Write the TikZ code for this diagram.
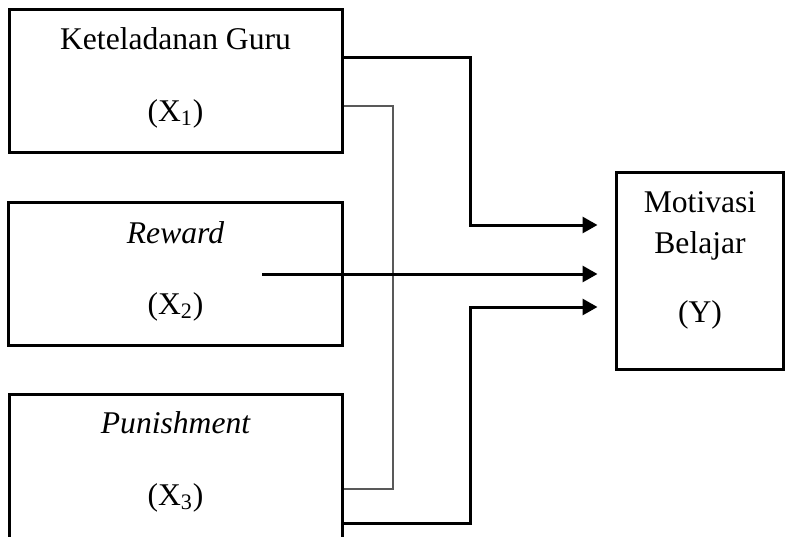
\documentclass[tikz,border=0pt]{standalone}
\usepackage{fontspec}
\setmainfont{Liberation Serif}
\usetikzlibrary{arrows.meta}
\begin{document}
\begin{tikzpicture}[x=0.5pt,y=-0.5pt,
  box/.style={draw,line width=1.5pt,rectangle,inner sep=0pt},
  lbl/.style={font=\fontsize{15.8pt}{19pt}\selectfont,inner sep=0pt,anchor=base},
  link/.style={line width=1.5pt},
  thinlink/.style={line width=0.6pt,draw=black!65},
  arr/.style={-{Triangle[length=7.5pt,width=8pt]},shorten >=8.5pt}]
\useasboundingbox (0,0) rectangle (785,536);
\clip (0,0) rectangle (785,536);
% boxes
\node[box,minimum width=166.5pt,minimum height=71.5pt] (b1) at (175.5,80.5) {};
\node[box,minimum width=167pt,minimum height=71.5pt] (b2) at (175,273.5) {};
\node[box,minimum width=166.5pt,minimum height=75.5pt] (b3) at (175.5,469.5) {};
\node[box,minimum width=83.5pt,minimum height=98.5pt] (bY) at (699.5,270.5) {};
% labels
\node[lbl] (t1a) at (175.5,49) {Keteladanan Guru};
\node[lbl] (t1b) at (175.5,121) {(X\textsubscript{1})};
\node[lbl] (t2a) at (175.5,243) {\itshape Reward};
\node[lbl] (t2b) at (175.5,314) {(X\textsubscript{2})};
\node[lbl] (t3a) at (175.5,433) {\itshape Punishment};
\node[lbl] (t3b) at (175.5,505) {(X\textsubscript{3})};
\node[lbl] (tYa) at (700,212) {Motivasi};
\node[lbl] (tYb) at (700,253) {Belajar};
\node[lbl] (tYc) at (700,322) {(Y)};
% connectors
\coordinate (rstart) at (262,274);
\draw[link,arr] (b1.east |- 0,57) -- (470,57) -- (470,225) -- (bY.west |- 0,225);
\draw[thinlink] (b1.east |- 0,106) -- (393,106) -- (393,489) -- (b3.east |- 0,489);
\draw[link,arr] (rstart) -- (bY.west |- rstart);
\draw[link,arr] (b3.east |- 0,523) -- (470,523) -- (470,307) -- (bY.west |- 0,307);
\end{tikzpicture}
\end{document}
